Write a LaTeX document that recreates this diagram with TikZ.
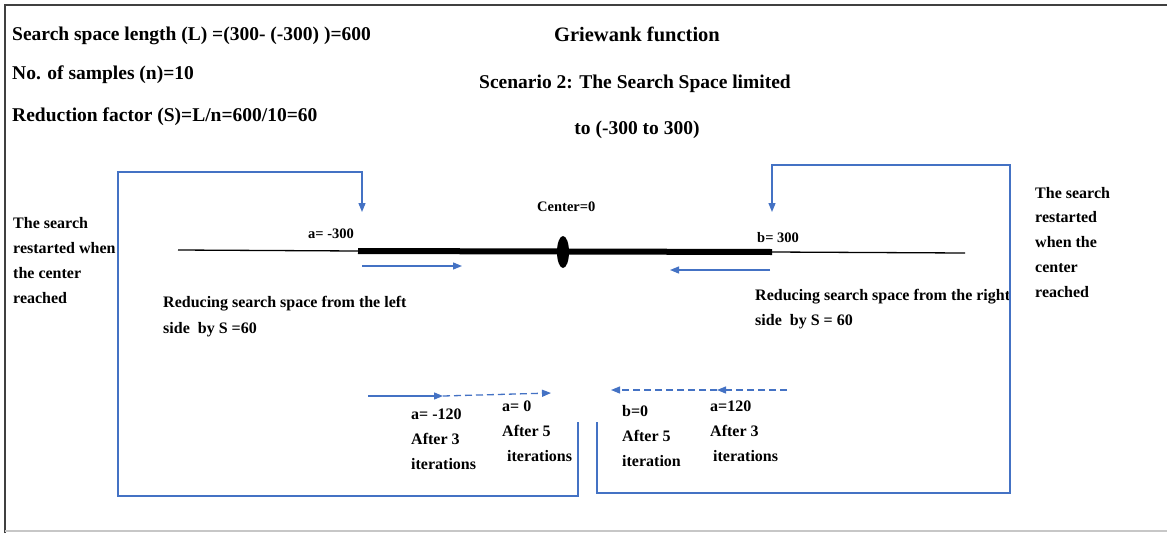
\documentclass[tikz,border=0pt]{standalone}
\usepackage{fontspec}
\setmainfont{Liberation Serif}
\usetikzlibrary{arrows.meta,positioning,shapes.geometric}
\definecolor{loopblue}{RGB}{68,114,196}

\begin{document}
\begin{tikzpicture}[x=1pt,y=-1pt]
	\tikzset{txt/.style={anchor=base west,inner sep=0pt,align=left,font=\fontsize{16}{24.7}\selectfont\bfseries},
		head/.style={anchor=base,inner sep=0pt,font=\fontsize{19.5}{23}\selectfont\bfseries},
		lab/.style={anchor=base west,inner sep=0pt,font=\fontsize{14.5}{17}\selectfont\bfseries},
		bl/.style={loopblue,line width=1.3pt},
		dsh/.style={dash pattern=on 7pt off 4pt},
		tip/.style={-{Triangle[length=9pt,width=7pt]}}}
	\useasboundingbox (0,0) rectangle (1167,533);
	\draw[black!75,line width=2pt] (5,533) -- (5,5) -- (1167,5);
	\draw[black!22,line width=1.5pt] (5,531) -- (1167,531);
	
	% texts at the top
	\node (len) at (12,40) [head,anchor=base west] {Search space length (L) =(300- (-300) )=600};
	\node (smp) at (12,79) [head,anchor=base west] {No. of samples (n)=10};
	\node (red) at (12,121) [head,anchor=base west] {Reduction factor (S)=L/n=600/10=60};
	\node (fun) at (637,41) [head,font=\fontsize{20.5}{24}\selectfont\bfseries] {Griewank function};
	\node (scn) at (635,88) [head] {Scenario 2: The Search Space limited};
	\node (rng) at (637,134) [head] {to (-300 to 300)};
	
	% search line
	\coordinate (L0) at (178,250);
	\coordinate (A) at (358,251);
	\coordinate (B) at (772,252);
	\coordinate (L1) at (965,253);
	\draw[line width=1.3pt] (L0) -- (A);
	\draw[line width=1.3pt] (B) -- (L1);
	\draw[line width=6pt] (A) -- (B);
	\node (C) at (563,252) [ellipse,fill,minimum width=12pt,minimum height=32pt,inner sep=0pt]{};
	\node (cen) at (537,211) [lab] {Center=0};
	\node (a0) at (308,238) [lab] {a= -300};
	\node (b0) at (757,242) [lab] {b= 300};
	\draw[bl,tip] (362,266) coordinate (la) -- (462,266) coordinate (lb);
	\draw[bl,tip] (770,270) coordinate (ra) -- (670,270) coordinate (rb);
	% base of a multi-line node = its last line
	\node (redL) at (163,333) [txt,font=\fontsize{16}{26}\selectfont\bfseries] {Reducing search space from the left\\side\ \ by S =60};
	\node (redR) at (755,325) [txt] {Reducing search space from the right\\side\ \ by S = 60};
	
	% restart loops
	\draw[bl,tip] (578,422) -- (578,496) -- (118,496) -- (118,172) -- (362,172) -- (362,212);
	\draw[bl,tip] (597,422) -- (597,493) -- (1010,493) -- (1010,165) -- (772,165) -- (772,212);
	\node (rsL) at (13,303) [txt] {The search\\restarted when\\the center\\reached};
	\node (rsR) at (1035,297) [txt] {The search\\restarted\\when the\\center\\reached};
	
	% iterations
	\coordinate (p1) at (368,396);
	\coordinate (p2) at (443,396);
	\coordinate (p3) at (551,393);
	\draw[bl,tip] (p1) -- (p2);
	\draw[bl,tip,dsh] (p2) -- (p3);
	\coordinate (q1) at (787,390);
	\coordinate (q2) at (717,390);
	\coordinate (q3) at (611,390);
	\draw[bl,tip,dsh] (q1) -- (q2);
	\draw[bl,tip,dsh] (q2) -- (q3);
	\node (it1) at (411,469) [txt] {a= -120\\After 3\\iterations};
	\node (it2) at (502,461) [txt] {a= 0\\After 5\\\hspace{5pt}iterations};
	\node (it3) at (622,466) [txt] {b=0\\After 5\\iteration};
	\node (it4) at (710,461) [txt] {a=120\\After 3\\\hspace{3pt}iterations};
\end{tikzpicture}
\end{document}
